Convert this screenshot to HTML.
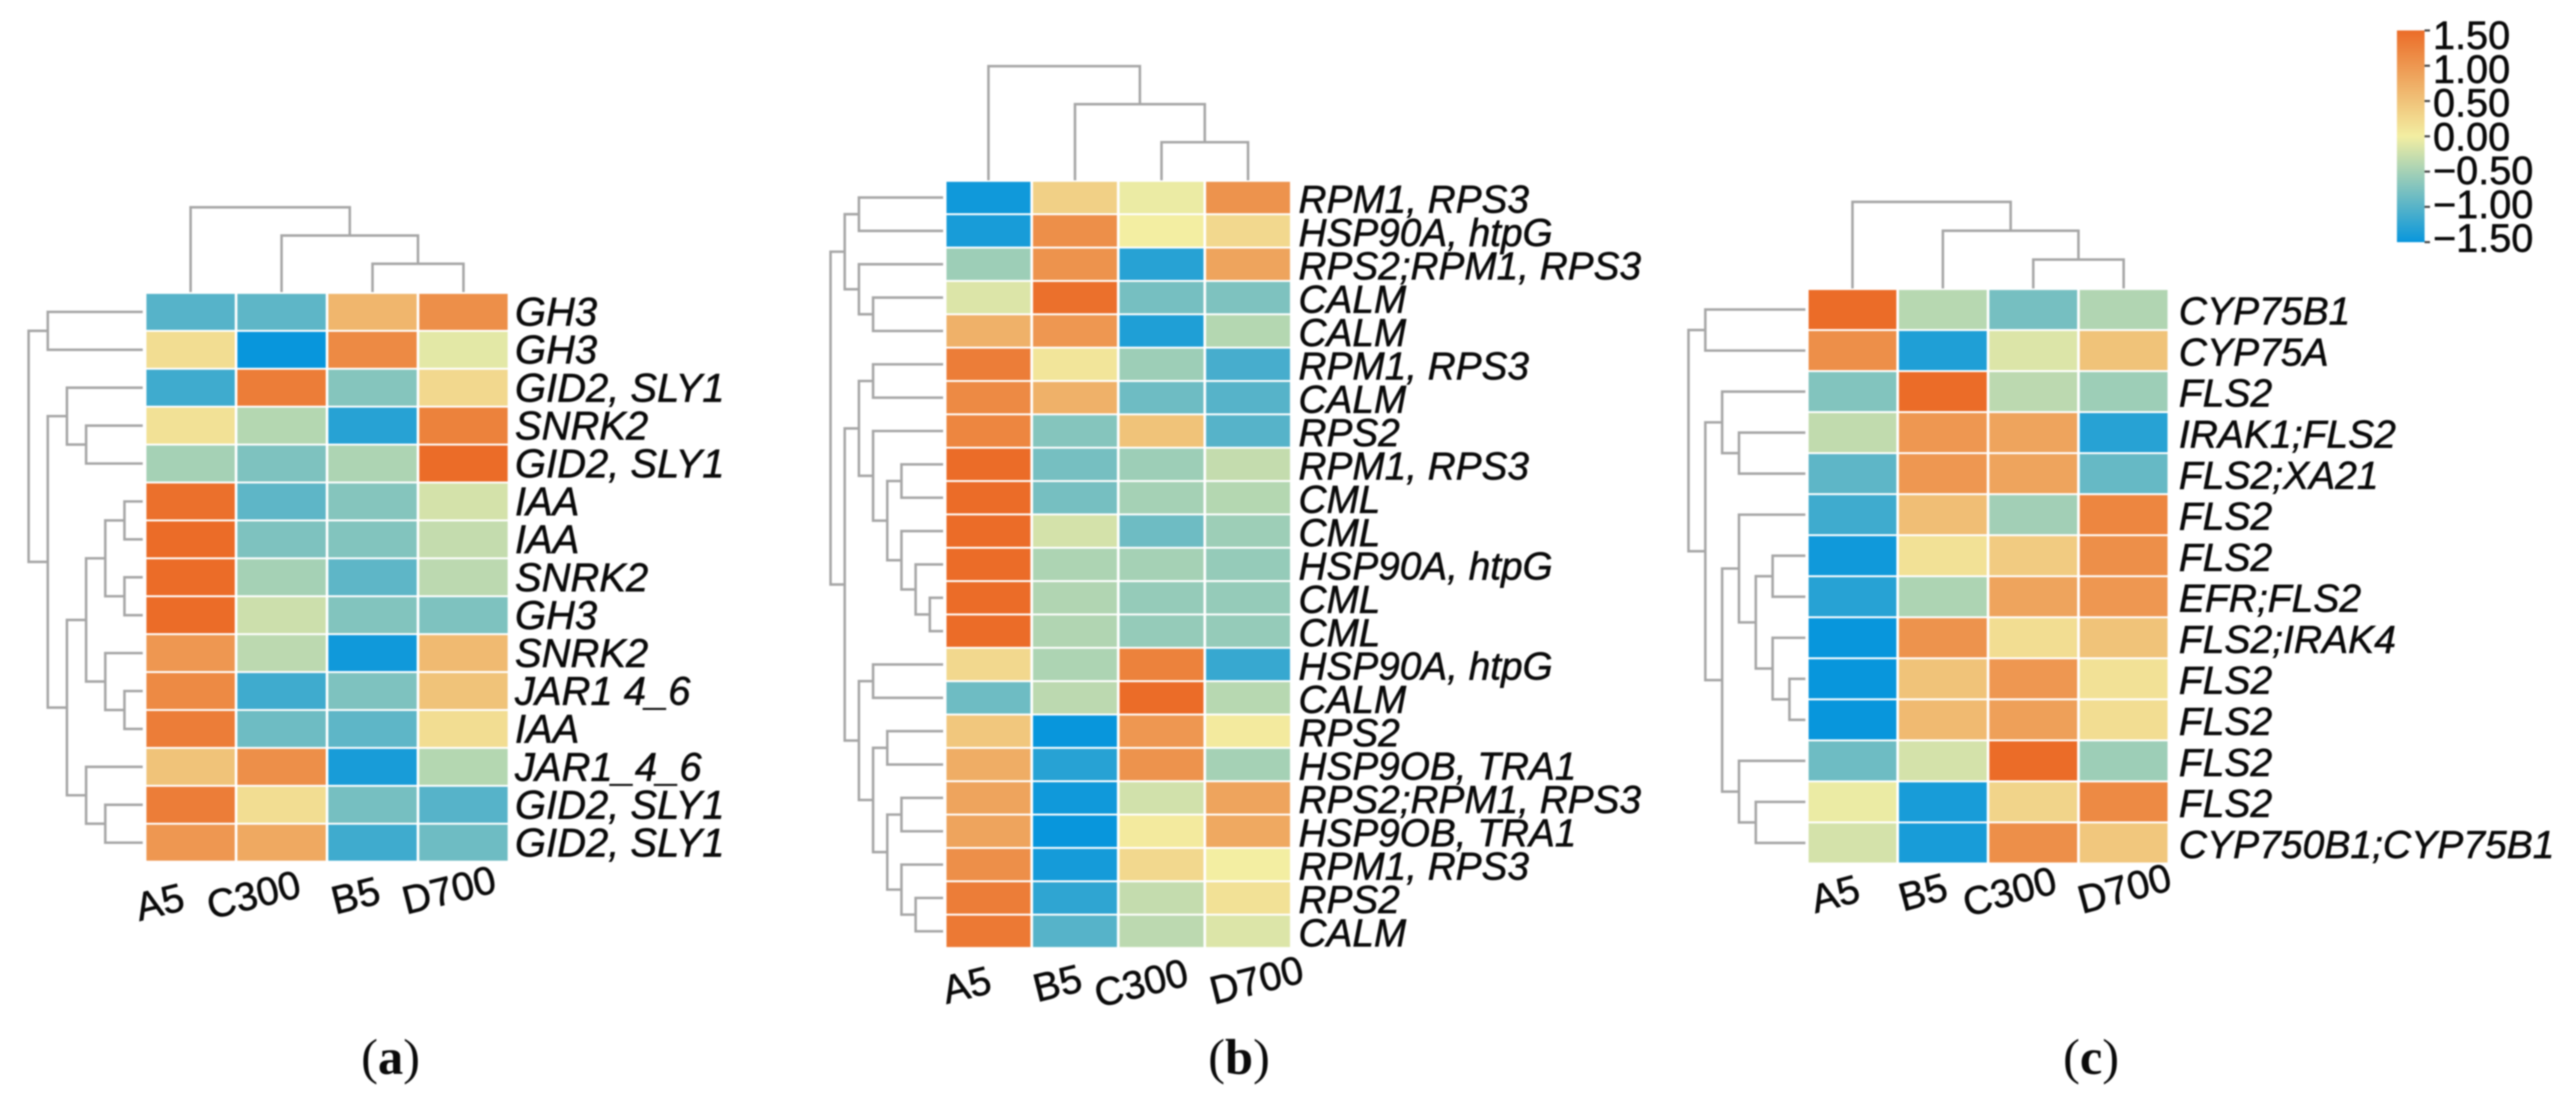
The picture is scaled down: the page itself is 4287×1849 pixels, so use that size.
<!DOCTYPE html>
<html lang="en">
<head>
<meta charset="utf-8">
<title>Clustered heatmaps (a), (b), (c)</title>
<style>
html,body{margin:0;padding:0;width:4287px;height:1849px;background:#fff;overflow:hidden}
svg{display:block;filter:blur(1.2px)}
text{font-family:"Liberation Sans",Arial,sans-serif;fill:#0a0a0a;stroke:#0a0a0a;stroke-width:0.9px}
.col{font-size:66px}
.cap{font-family:"Liberation Serif","Times New Roman",serif;font-size:84px;stroke-width:0}
.cap tspan{font-weight:bold}
</style>
</head>
<body>
<svg id="figure" xmlns="http://www.w3.org/2000/svg" width="4287" height="1849" viewBox="0 0 4287 1849">
  <defs>
    <linearGradient id="cbar" x1="0" y1="1" x2="0" y2="0"></linearGradient>
  </defs>
  <rect width="4287" height="1849" fill="#fff"/>
  <g id="panel-a"></g>
  <g id="panel-b"></g>
  <g id="panel-c"></g>
  <g id="colorbar"></g>

  <g>
    <text class="col" transform="translate(232,1533) rotate(-14)">A5</text>
    <text class="col" transform="translate(351,1530) rotate(-14)">C300</text>
    <text class="col" transform="translate(558,1522) rotate(-14)">B5</text>
    <text class="col" transform="translate(676,1522) rotate(-14)">D700</text>
  </g>
  <g>
    <text class="col" transform="translate(1575,1671) rotate(-14)">A5</text>
    <text class="col" transform="translate(1726,1668) rotate(-14)">B5</text>
    <text class="col" transform="translate(1828,1677) rotate(-14)">C300</text>
    <text class="col" transform="translate(2020,1672) rotate(-14)">D700</text>
  </g>
  <g>
    <text class="col" transform="translate(3021,1520) rotate(-15)">A5</text>
    <text class="col" transform="translate(3167,1517) rotate(-15)">B5</text>
    <text class="col" transform="translate(3274,1526) rotate(-15)">C300</text>
    <text class="col" transform="translate(3465,1521) rotate(-15)">D700</text>
  </g>

  <text class="cap" x="650" y="1787" text-anchor="middle">(<tspan>a</tspan>)</text>
  <text class="cap" x="2062" y="1787" text-anchor="middle">(<tspan>b</tspan>)</text>
  <text class="cap" x="3480" y="1787" text-anchor="middle">(<tspan>c</tspan>)</text>
</svg>

<script>
/* ---------- Panel (a) data ---------- */
const columnsA = ['A5','C300','B5','D700'];
const rowsA = ['GH3','GH3','GID2, SLY1','SNRK2','GID2, SLY1','IAA','IAA','SNRK2','GH3','SNRK2','JAR1 4_6','IAA','JAR1_4_6','GID2, SLY1','GID2, SLY1'];
const valuesA = [
  [-1.0,-0.95,0.65,1.1],
  [0.2,-1.5,1.15,-0.1],
  [-1.15,1.3,-0.7,0.25],
  [0.15,-0.4,-1.3,1.25],
  [-0.5,-0.75,-0.45,1.5],
  [1.45,-0.95,-0.7,-0.2],
  [1.5,-0.75,-0.72,-0.3],
  [1.5,-0.5,-0.95,-0.35],
  [1.5,-0.25,-0.72,-0.75],
  [1.0,-0.35,-1.45,0.6],
  [1.15,-1.15,-0.75,0.5],
  [1.3,-0.85,-0.95,0.2],
  [0.5,1.1,-1.4,-0.4],
  [1.3,0.2,-0.8,-1.0],
  [1.0,0.8,-1.15,-0.85]
];
/* merges: [level, left, right]; integers inside are leaf indices */
const rowTreeA = [6,[5,0,1],[5,[4,2,[3,3,4]],[4,[3,[2,[1,5,6],[1,7,8]],[2,9,[1,10,11]]],[3,12,[2,13,14]]]]];
const colTreeA = [3,0,[2,1,[1,2,3]]];

/* ---------- Panel (b) data ---------- */
const columnsB = ['A5','B5','C300','D700'];
const rowsB = ['RPM1, RPS3','HSP90A, htpG','RPS2;RPM1, RPS3','CALM','CALM','RPM1, RPS3','CALM','RPS2','RPM1, RPS3','CML','CML','HSP90A, htpG','CML','CML','HSP90A, htpG','CALM','RPS2','HSP9OB, TRA1','RPS2;RPM1, RPS3','HSP9OB, TRA1','RPM1, RPS3','RPS2','CALM'];
const valuesB = [
  [-1.45,0.35,-0.05,1.05],
  [-1.4,1.1,0.0,0.25],
  [-0.55,1.05,-1.3,0.85],
  [-0.15,1.45,-0.8,-0.75],
  [0.7,1.0,-1.35,-0.4],
  [1.3,0.1,-0.55,-1.1],
  [1.15,0.7,-0.85,-1.0],
  [1.2,-0.7,0.5,-1.0],
  [1.5,-0.8,-0.55,-0.3],
  [1.5,-0.8,-0.5,-0.4],
  [1.5,-0.2,-0.85,-0.55],
  [1.5,-0.45,-0.5,-0.6],
  [1.5,-0.42,-0.6,-0.6],
  [1.5,-0.42,-0.6,-0.6],
  [0.25,-0.45,1.25,-1.2],
  [-0.85,-0.35,1.5,-0.38],
  [0.45,-1.5,1.0,0.05],
  [0.75,-1.3,1.05,-0.5],
  [0.85,-1.45,-0.22,0.85],
  [0.85,-1.5,0.05,0.8],
  [1.1,-1.42,0.25,0.0],
  [1.3,-1.25,-0.3,0.15],
  [1.35,-1.0,-0.35,-0.15]
];
const rowTreeB = [8,[7,[6,0,1],[6,2,[5,3,4]]],[7,[6,[5,5,6],[5,7,[4,[3,8,9],[3,10,[2,11,[1,12,13]]]]]],[6,[5,14,15],[5,[4,16,17],[4,[3,18,19],[3,20,[2,21,22]]]]]]];
const colTreeB = [3,0,[2,1,[1,2,3]]];

/* ---------- Panel (c) data ---------- */
const columnsC = ['A5','B5','C300','D700'];
const rowsC = ['CYP75B1','CYP75A','FLS2','IRAK1;FLS2','FLS2;XA21','FLS2','FLS2','EFR;FLS2','FLS2;IRAK4','FLS2','FLS2','FLS2','FLS2','CYP750B1;CYP75B1'];
const valuesC = [
  [1.5,-0.38,-0.8,-0.42],
  [1.1,-1.35,-0.15,0.5],
  [-0.72,1.5,-0.35,-0.55],
  [-0.32,1.0,0.85,-1.3],
  [-0.95,1.0,0.85,-0.9],
  [-1.15,0.55,-0.52,1.2],
  [-1.45,0.15,0.4,1.1],
  [-1.3,-0.45,0.85,1.0],
  [-1.5,1.05,0.2,0.5],
  [-1.5,0.5,1.0,0.15],
  [-1.5,0.6,0.9,0.2],
  [-0.85,-0.2,1.5,-0.55],
  [-0.05,-1.4,0.3,1.15],
  [-0.2,-1.4,1.1,0.45]
];
const rowTreeC = [7,[6,0,1],[6,[5,2,[4,3,4]],[5,[4,5,[3,[2,6,7],[2,8,[1,9,10]]]],[4,11,[3,12,13]]]]];
const colTreeC = [3,0,[2,1,[1,2,3]]];

/* ---------- Colour scale ---------- */
const scaleStops = [-1.5,0,1.5];
const scaleColors = [[8,150,220],[243,238,162],[235,108,40]];
const colorbarTicks = [1.5,1.0,0.5,0,-0.5,-1.0,-1.5];
const colorbarLabels = ['1.50','1.00','0.50','0.00','\u22120.50','\u22121.00','\u22121.50'];

const NS = 'http://www.w3.org/2000/svg';
function make(tag, attrs, parent){
  const el = document.createElementNS(NS, tag);
  for (const k in attrs) el.setAttribute(k, attrs[k]);
  parent.appendChild(el);
  return el;
}
function colorOf(v){
  const c = Math.max(scaleStops[0], Math.min(scaleStops[2], v));
  const i = c <= scaleStops[1] ? 0 : 1;
  const t = (c - scaleStops[i]) / (scaleStops[i+1] - scaleStops[i]);
  const rgb = scaleColors[i].map((a,j) => Math.round(a + (scaleColors[i+1][j]-a)*t));
  return 'rgb(' + rgb.join(',') + ')';
}
const LINE = '#a6a6a6';
function treeLine(d, parent, name){
  const p = make('path', {d:d, fill:'none', stroke:LINE, 'stroke-width':4.2}, parent);
  
  
}
function drawRowTree(node, g, xOf, yOf, leafX){
  if (typeof node === 'number') return {x:leafX, y:yOf(node)};
  const a = drawRowTree(node[1], g, xOf, yOf, leafX);
  const b = drawRowTree(node[2], g, xOf, yOf, leafX);
  const x = xOf(node[0]);
  treeLine('M'+a.x+' '+a.y+'H'+x+'V'+b.y+'H'+b.x, g, 'row-dendrogram-branch');
  return {x:x, y:(a.y+b.y)/2};
}
function drawColTree(node, g, xOf, yOf, leafY){
  if (typeof node === 'number') return {x:xOf(node), y:leafY};
  const a = drawColTree(node[1], g, xOf, yOf, leafY);
  const b = drawColTree(node[2], g, xOf, yOf, leafY);
  const y = yOf(node[0]);
  treeLine('M'+a.x+' '+a.y+'V'+y+'H'+b.x+'V'+b.y, g, 'column-dendrogram-branch');
  return {x:(a.x+b.x)/2, y:y};
}
function drawPanel(id, cols, rows, values, rowTree, colTree, box){
  const root = document.getElementById(id);
  const cw = (box.right - box.left) / cols.length;
  const rh = (box.bottom - box.top) / rows.length;
  const xCol = c => box.left + cw*(c+0.5);
  const yRow = r => box.top + rh*(r+0.5);

  const rowG = make('g', {}, root);
  
  
  drawRowTree(rowTree, rowG, l => box.treeBase - l*box.rowStep, yRow, box.treeBase - 1.5);

  const colG = make('g', {}, root);
  
  
  drawColTree(colTree, colG, xCol, l => box.topBase - l*box.colStep, box.topBase);

  const cellG = make('g', {}, root);
  
  
  values.forEach((row, r) => row.forEach((v, c) => {
    const cell = make('rect', {
      x: box.left + cw*c + 2.2,
      y: box.top + rh*r + 1.6,
      width: cw - 4.4,
      height: rh - 3.2,
      fill: colorOf(v)
    }, cellG);
    
    
  }));

  const labelG = make('g', {}, root);
  
  
  rows.forEach((label, r) => {
    const t = make('text', {x: box.labelX, y: yRow(r) + box.labelDy, 'font-size': box.labelSize, 'font-style': 'italic'}, labelG);
    t.textContent = label;
    
    
  });
}

drawPanel('panel-a', columnsA, rowsA, valuesA, rowTreeA, colTreeA,
  {left:241.5,right:847,top:487.5,bottom:1434,treeBase:239,rowStep:31.9,topBase:486,colStep:47,labelX:857,labelDy:23,labelSize:66.5});
drawPanel('panel-b', columnsB, rowsB, valuesB, rowTreeB, colTreeB,
  {left:1573,right:2149,top:301,bottom:1577.7,treeBase:1571,rowStep:23.6,topBase:300,colStep:63.3,labelX:2161,labelDy:25,labelSize:64.5});
drawPanel('panel-c', columnsC, rowsC, valuesC, rowTreeC, colTreeC,
  {left:3007.7,right:3609.4,top:481,bottom:1437,treeBase:3006,rowStep:28,topBase:480,colStep:48,labelX:3626,labelDy:25,labelSize:65});

/* ---------- Colour bar ---------- */
(function(){
  const grad = document.getElementById('cbar');
  scaleStops.forEach((v,i) => {
    const s = make('stop', {offset:(v-scaleStops[0])/(scaleStops[2]-scaleStops[0]), 'stop-color':colorOf(v)}, grad);
    
    
  });
  const g = document.getElementById('colorbar');
  const top = 50.7, bottom = 403, left = 3989, right = 4035;
  const yTick = v => top + (1.5 - v) / 3 * (bottom - top);
  const yLabel = v => 81.7 + (1.5 - v) * 112.5;
  const bar = make('rect', {x:left, y:top, width:right-left, height:bottom-top, fill:'url(#cbar)'}, g);
  
  
  colorbarTicks.forEach((v,i) => {
    const tick = make('path', {d:'M'+right+' '+yTick(v)+'h9', stroke:'#444', 'stroke-width':3.5}, g);
    
    
    const t = make('text', {x:4049, y:yLabel(v), 'font-size':66}, g);
    t.textContent = colorbarLabels[i];
    
    
  });
})();
</script>
</body>
</html>
